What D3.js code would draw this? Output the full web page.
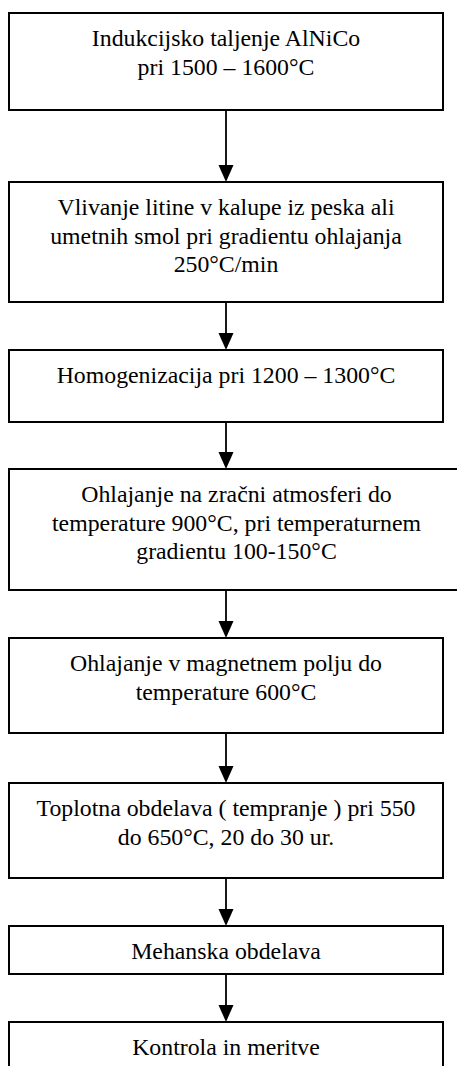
<!DOCTYPE html>
<html>
<head>
<meta charset="utf-8">
<script src="https://cdn.jsdelivr.net/npm/d3@7"></script>
<style>
  html, body { margin: 0; padding: 0; background: #fff; }
  svg { display: block; }
</style>
</head>
<body>
<svg id="chart"></svg>
<script>
// Process steps (text lines of each box)
const steps = [
    ['Indukcijsko taljenje AlNiCo', 'pri 1500 – 1600°C'],
    ['Vlivanje litine v kalupe iz peska ali', 'umetnih smol pri gradientu ohlajanja', '250°C/min'],
    ['Homogenizacija pri 1200 – 1300°C'],
    ['Ohlajanje na zračni atmosferi do', 'temperature 900°C, pri temperaturnem', 'gradientu 100-150°C'],
    ['Ohlajanje v magnetnem polju do', 'temperature 600°C'],
    ['Toplotna obdelava ( tempranje ) pri 550', 'do 650°C, 20 do 30 ur.'],
    ['Mehanska obdelava'],
    ['Kontrola in meritve']
];

// Layout of the boxes (page pixels)
const boxTop = [13, 182, 350, 469, 638, 783, 926, 1022];
const boxBottom = [110, 302, 422, 590, 733, 878, 974, 1090];
const boxLeft = [9, 9, 9, 9, 9, 9, 9, 9];
const boxRight = [443, 443, 443, 464, 443, 443, 443, 443];

const svgWidth = 457;
const svgHeight = 1066;
const arrowX = 226;
const lineHeight = 28.5;
const textOffset = 33;

const svg = d3.select('#chart')
    .attr('width', svgWidth)
    .attr('height', svgHeight);

// Arrows between boxes
for (let i = 0; i < steps.length - 1; i++) {
    const y0 = boxBottom[i];
    const y1 = boxTop[i + 1];
    svg.append('line')
        .attr('x1', arrowX)
        .attr('x2', arrowX)
        .attr('y1', y0)
        .attr('y2', y1 - 14)
        .attr('stroke', '#000')
        .attr('stroke-width', 1.8);
    svg.append('path')
        .attr('d', `M${arrowX - 7.5},${y1 - 17} L${arrowX + 7.5},${y1 - 17} L${arrowX},${y1} Z`)
        .attr('fill', '#000');
}

// Boxes
const boxes = svg.selectAll('g.step')
    .data(steps)
    .enter()
    .append('g')
    .attr('class', 'step');

boxes.append('rect')
    .attr('x', (d, i) => boxLeft[i])
    .attr('y', (d, i) => boxTop[i])
    .attr('width', (d, i) => boxRight[i] - boxLeft[i])
    .attr('height', (d, i) => boxBottom[i] - boxTop[i])
    .attr('fill', '#fff')
    .attr('stroke', '#000')
    .attr('stroke-width', 2);

boxes.each(function (d, i) {
    const g = d3.select(this);
    const cx = (boxLeft[i] + boxRight[i]) / 2;
    g.selectAll('text')
        .data(d)
        .enter()
        .append('text')
        .attr('x', cx)
        .attr('y', (t, j) => boxTop[i] + textOffset + j * lineHeight)
        .attr('text-anchor', 'middle')
        .style('font-family', '"Liberation Serif", "Times New Roman", serif')
        .style('font-size', '23.8px')
        .style('fill', '#000')
        .text(t => t);
});
</script>
</body>
</html>
